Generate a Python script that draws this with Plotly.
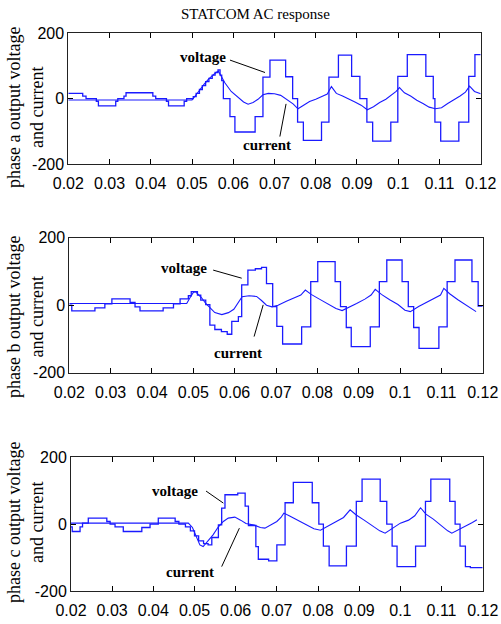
import plotly.graph_objects as go

W, H = 501, 624

# ---------------- data ----------------
x_ticks = [0.02, 0.03, 0.04, 0.05, 0.06, 0.07, 0.08, 0.09, 0.10, 0.11, 0.12]
x_tick_labels = ["0.02", "0.03", "0.04", "0.05", "0.06", "0.07", "0.08", "0.09", "0.1", "0.11", "0.12"]
y_ticks = [-200, 0, 200]
y_tick_labels = ["-200", "0", "200"]

# phase a
va_t = [0.0200, 0.0235, 0.0243, 0.0268, 0.0273, 0.0315, 0.0320, 0.0335, 0.0340, 0.0405, 0.0412,
        0.0438, 0.0443, 0.0481, 0.0487, 0.0503, 0.0510, 0.0518, 0.0525, 0.0533, 0.0541, 0.0549,
        0.0556, 0.0563, 0.0568, 0.0572, 0.0576, 0.0592, 0.0604, 0.0653, 0.0672, 0.0689, 0.0727, 0.0744,
        0.0756, 0.0770, 0.0814, 0.0832, 0.0855, 0.0887, 0.0907, 0.0924, 0.0938, 0.0982, 0.0999,
        0.1022, 0.1067, 0.1085, 0.1089, 0.1103, 0.1147, 0.1171, 0.1186, 0.1200]
va_v = [16, 8, 0, -8, -22, -8, 0, 8, 18, 8, 0,
        -8, -22, -8, 0, 6, 16, 28, 40, 52, 62, 72,
        80, 88, 72, 55, 0, -55, -102, -55, 66, 118, 67, 0,
        -72, -128, -72, 66, 133, 68, 0, -72, -130, -72, 68,
        135, 68, 0, -72, -130, -72, 68, 135, 135]
ia_t = [0.0200, 0.0500, 0.0510, 0.0520, 0.0530, 0.0540, 0.0550, 0.0558, 0.0564, 0.0570, 0.0580,
        0.0595, 0.0610, 0.0625, 0.0636, 0.0648, 0.0660, 0.0672, 0.0685, 0.0700, 0.0715, 0.0730,
        0.0745, 0.0757, 0.0770, 0.0785, 0.0800, 0.0815, 0.0828, 0.0838, 0.0850, 0.0865, 0.0880,
        0.0895, 0.0910, 0.0925, 0.0940, 0.0955, 0.0970, 0.0985, 0.0995, 0.1003, 0.1015, 0.1030,
        0.1045, 0.1060, 0.1075, 0.1090, 0.1105, 0.1120, 0.1135, 0.1150, 0.1163, 0.1173, 0.1185, 0.1200]
ia_v = [-4, -4, 12, 30, 45, 60, 72, 80, 84, 70, 48,
        22, 5, -10, -17, -12, -2, 12, 16, 15, 10, -4,
        -16, -31, -20, -9, -2, 6, 14, 37, 16, 8, 0,
        -10, -20, -34, -25, -12, -2, 12, 22, 34, 18, 8,
        -5, -15, -26, -31, -28, -15, -4, 8, 20, 38, 22, 15]

# phase b
vb_t = [0.0200, 0.0206, 0.0262, 0.0286, 0.0303, 0.0347, 0.0359, 0.0371, 0.0427, 0.0452, 0.0468,
        0.0488, 0.0495, 0.0510, 0.0518, 0.0530, 0.0540, 0.0552, 0.0568, 0.0582, 0.0593, 0.0609,
        0.0617, 0.0632, 0.0650, 0.0665, 0.0677, 0.0692, 0.0702, 0.0716, 0.0762, 0.0784, 0.0801,
        0.0843, 0.0856, 0.0870, 0.0882, 0.0928, 0.0950, 0.0968, 0.1005, 0.1020, 0.1033, 0.1046,
        0.1094, 0.1114, 0.1133, 0.1174, 0.1189, 0.1200]
vb_v = [0, -17, -8, 4, 19, 8, -5, -17, -8, 4, 19,
        28, 40, 30, 15, 2, -59, -72, -78, -86, -48, -34,
        60, 104, 108, 112, 64, -4, -63, -115, -64, 70, 129,
        70, -4, -66, -123, -64, 70, 134, 70, -4, -66, -128,
        -64, 70, 134, 70, -3, -3]
ib_t = [0.0200, 0.0484, 0.0492, 0.0500, 0.0505, 0.0512, 0.0520, 0.0530, 0.0540, 0.0552, 0.0569,
        0.0585, 0.0598, 0.0610, 0.0618, 0.0635, 0.0653, 0.0665, 0.0677, 0.0690, 0.0705, 0.0725,
        0.0745, 0.0760, 0.0771, 0.0785, 0.0805, 0.0825, 0.0845, 0.0860, 0.0875, 0.0895, 0.0915,
        0.0930, 0.0940, 0.0955, 0.0975, 0.0995, 0.1012, 0.1025, 0.1045, 0.1065, 0.1085, 0.1098,
        0.1106, 0.1120, 0.1140, 0.1160, 0.1175, 0.1184]
ib_v = [5, 5, 22, 38, 40, 32, 22, 5, -8, -22, -28,
        -22, -12, 8, 25, 28, 26, 14, 0, -5, 0, 12,
        22, 30, 45, 32, 18, 4, -10, -16, -8, 5, 18,
        30, 47, 32, 16, 2, -15, -19, -4, 8, 20, 30,
        50, 34, 16, 0, -14, -19]

# phase c
vc_t = [0.0200, 0.0203, 0.0222, 0.0228, 0.0242, 0.0287, 0.0295, 0.0307, 0.0327, 0.0372, 0.0392,
        0.0412, 0.0453, 0.0462, 0.0478, 0.0490, 0.0500, 0.0510, 0.0522, 0.0533, 0.0542, 0.0558,
        0.0566, 0.0574, 0.0605, 0.0623, 0.0631, 0.0649, 0.0655, 0.0680, 0.0700, 0.0720, 0.0740,
        0.0786, 0.0802, 0.0813, 0.0827, 0.0869, 0.0893, 0.0907, 0.0951, 0.0967, 0.0980, 0.0992,
        0.1037, 0.1061, 0.1074, 0.1120, 0.1133, 0.1145, 0.1158, 0.1170, 0.1200]
vc_v = [-8, -22, -8, 3, 18, 8, 0, -8, -22, -10, 0,
        18, 8, 0, -8, -20, -35, -50, -58, -62, -40, -2,
        48, 88, 93, 54, -4, -67, -105, -110, -62, 64, 125,
        64, 0, -66, -125, -66, 68, 135, 68, 0, -66, -127,
        -66, 68, 135, 68, 0, -66, -127, -130, -130]
ic_t = [0.0200, 0.0485, 0.0495, 0.0505, 0.0513, 0.0521, 0.0532, 0.0545, 0.0558, 0.0570, 0.0582,
        0.0598, 0.0612, 0.0625, 0.0645, 0.0660, 0.0671, 0.0685, 0.0700, 0.0710, 0.0717, 0.0730,
        0.0750, 0.0770, 0.0790, 0.0806, 0.0825, 0.0845, 0.0862, 0.0878, 0.0892, 0.0912, 0.0935,
        0.0950, 0.0963, 0.0980, 0.1000, 0.1020, 0.1035, 0.1049, 0.1062, 0.1080, 0.1100, 0.1115,
        0.1125, 0.1140, 0.1160, 0.1175, 0.1186]
ic_v = [3, 3, -10, -40, -62, -67, -52, -32, -8, 8, 18,
        21, 12, 2, -3, -10, -12, -2, 8, 20, 33, 25,
        12, 0, -14, -18, -5, 8, 20, 43, 28, 12, -8,
        -20, -27, -12, 3, 12, 25, 49, 30, 15, -5, -20,
        -27, -18, -5, 5, 13]

phase_names = ["a", "b", "c"]

# ---------------- layout helpers ----------------
BLUE = "#1a1aff"
x_dom = [[68.3 / W, 480.7 / W], [69.3 / W, 482.7 / W], [71 / W, 482.7 / W]]
y_pix = [(33.3, 164.0), (237.7, 372.7), (457.3, 591.0)]
y_dom = [[1 - b / H, 1 - t / H] for t, b in y_pix]

TICKFONT = dict(family="Liberation Sans, Arial, sans-serif", size=16, color="black")
SERIF = "Liberation Serif, Times New Roman, serif"

fig = go.Figure()
series = [(va_t, va_v, ia_t, ia_v), (vb_t, vb_v, ib_t, ib_v), (vc_t, vc_v, ic_t, ic_v)]
for i, (vt, vv, it, iv) in enumerate(series):
    sfx = "" if i == 0 else str(i + 1)
    fig.add_trace(go.Scatter(x=vt, y=vv, mode="lines", line=dict(color=BLUE, width=1.3, shape="hv"),
                             xaxis="x" + sfx, yaxis="y" + sfx, name="voltage", showlegend=False))
    fig.add_trace(go.Scatter(x=it, y=iv, mode="lines", line=dict(color=BLUE, width=1.1),
                             xaxis="x" + sfx, yaxis="y" + sfx, name="current", showlegend=False))

layout = dict(width=W, height=H, margin=dict(l=0, r=0, t=0, b=0),
              paper_bgcolor="white", plot_bgcolor="white", showlegend=False)
for i in range(3):
    sfx = "" if i == 0 else str(i + 1)
    layout["xaxis" + sfx] = dict(domain=x_dom[i], anchor="y" + sfx, range=[0.02, 0.12],
                                 tickvals=x_ticks, ticktext=x_tick_labels, ticks="inside", ticklen=5,
                                 tickcolor="black", showline=True, linecolor="#222", linewidth=1,
                                 mirror="ticks", showgrid=False, zeroline=False, tickfont=TICKFONT,
                                 ticklabelstandoff=5, automargin=False)
    layout["yaxis" + sfx] = dict(domain=y_dom[i], anchor="x" + sfx, range=[-200, 200],
                                 tickvals=y_ticks, ticktext=y_tick_labels, ticks="inside", ticklen=5,
                                 tickcolor="black", showline=True, linecolor="#222", linewidth=1,
                                 mirror="ticks", showgrid=False, zeroline=False, tickfont=TICKFONT,
                                 ticklabelstandoff=0, automargin=False)
fig.update_layout(**layout)

ann = [dict(text="STATCOM AC response", x=255 / W, y=1 - 14 / H, xref="paper", yref="paper",
            xanchor="center", yanchor="middle", showarrow=False,
            font=dict(family=SERIF, size=15, color="black"))]
ycent = [108, 317, 523]
for i in range(3):
    ann.append(dict(text="phase %s output voltage<br>and current" % phase_names[i],
                    x=25 / W, y=1 - ycent[i] / H, xref="paper", yref="paper", textangle=-90,
                    xanchor="center", yanchor="middle", showarrow=False,
                    font=dict(family=SERIF, size=18, color="black")))

# label positions (data coords) and leader lines
labels = [
    dict(v=(0.0527, 127), vl=((0.0592, 118), (0.0677, 80)), c=(0.0681, -141), cl=((0.0713, -116), (0.0728, -16))),
    dict(v=(0.0478, 109), vl=((0.0548, 104), (0.0617, 80)), c=(0.0607, -141), cl=((0.0647, -93), (0.0669, 1))),
    dict(v=(0.0453, 99), vl=((0.0528, 99), (0.0570, 63)), c=(0.0489, -142), cl=((0.0566, -127), (0.0609, -12))),
]
shapes = []
for i, lb in enumerate(labels):
    sfx = "" if i == 0 else str(i + 1)
    for key in ("v", "c"):
        ann.append(dict(text="<b>%s</b>" % ("voltage" if key == "v" else "current"),
                        x=lb[key][0], y=lb[key][1], xref="x" + sfx, yref="y" + sfx, showarrow=False,
                        xanchor="center", yanchor="middle",
                        font=dict(family=SERIF, size=15, color="black")))
        (x0, y0), (x1, y1) = lb[key + "l"]
        shapes.append(dict(type="line", x0=x0, y0=y0, x1=x1, y1=y1, xref="x" + sfx, yref="y" + sfx,
                           line=dict(color="black", width=1)))
fig.update_layout(annotations=ann, shapes=shapes)

fig.write_html("out.html", config={"displayModeBar": False},
               post_script="document.body.style.margin='0px';")
